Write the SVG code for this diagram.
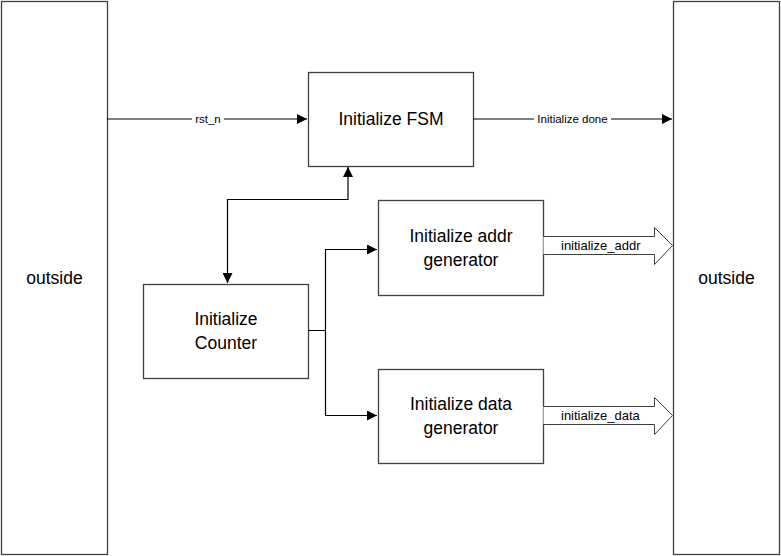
<svg xmlns="http://www.w3.org/2000/svg" width="781" height="556" viewBox="0 0 781 556">
<style>
.box{fill:#fff;stroke:#404040;stroke-width:1.3}
.t{font-family:"Liberation Sans",Arial,sans-serif;font-size:17.5px;fill:#000;text-anchor:middle}
.s{font-family:"Liberation Sans",Arial,sans-serif;font-size:11.5px;fill:#000;text-anchor:middle}
.m{font-family:"Liberation Sans",Arial,sans-serif;font-size:13px;fill:#000}
.ln{fill:none;stroke:#000;stroke-width:1.2}
.fat{fill:#fff;stroke:#404040;stroke-width:1}
</style>
<defs>
<marker id="ah" viewBox="0 0 10 10" refX="10" refY="5" markerWidth="10" markerHeight="10" markerUnits="userSpaceOnUse" orient="auto-start-reverse">
<path d="M0,0 L10,5 L0,10 z" fill="#000"/>
</marker>
</defs>
<rect width="781" height="556" fill="#fff"/>
<g id="outside-left"><rect class="box" x="1.5" y="1.5" width="106" height="553"/><text class="t" x="54.5" y="284">outside</text></g>
<g id="outside-right"><rect class="box" x="673.5" y="1.5" width="106" height="553"/><text class="t" x="726.5" y="284">outside</text></g>
<g id="fsm"><rect class="box" x="308.5" y="72.5" width="165" height="94"/><text class="t" x="391" y="125">Initialize FSM</text></g>
<g id="addr"><rect class="box" x="378.5" y="200.5" width="165" height="95"/><text class="t" x="461" y="242">Initialize addr</text><text class="t" x="461" y="266">generator</text></g>
<g id="counter"><rect class="box" x="143.5" y="284.5" width="165" height="94"/><text class="t" x="226" y="325">Initialize</text><text class="t" x="226" y="349">Counter</text></g>
<g id="data"><rect class="box" x="378.5" y="369.5" width="165" height="94"/><text class="t" x="461" y="410">Initialize data</text><text class="t" x="461" y="434">generator</text></g>
<g id="connectors">
<path class="ln" d="M107,119 H307" marker-end="url(#ah)"/>
<rect x="192" y="112" width="32" height="14" fill="#fff"/>
<text class="s" x="208" y="123">rst_n</text>
<path class="ln" d="M473,119 H672" marker-end="url(#ah)"/>
<rect x="534" y="112" width="77" height="14" fill="#fff"/>
<text class="s" x="572.5" y="123">Initialize done</text>
<path class="ln" d="M348,167 V199.5 H227.5 V283" marker-start="url(#ah)" marker-end="url(#ah)"/>
<path class="ln" d="M308,330.5 H325.5 V249.5 H377" marker-end="url(#ah)"/>
<path class="ln" d="M325.5,330.5 V415.5 H377" marker-end="url(#ah)"/>
<path class="fat" d="M543.5,236.5 H654.5 V227.5 L672.5,245.5 L654.5,264.5 V254.5 H543.5"/>
<text class="m" x="561" y="250">initialize_addr</text>
<path class="fat" d="M543.5,406.5 H654.5 V397.5 L672.5,415.5 L654.5,434.5 V424.5 H543.5"/>
<text class="m" x="561" y="420">initialize_data</text>
</g>
</svg>
